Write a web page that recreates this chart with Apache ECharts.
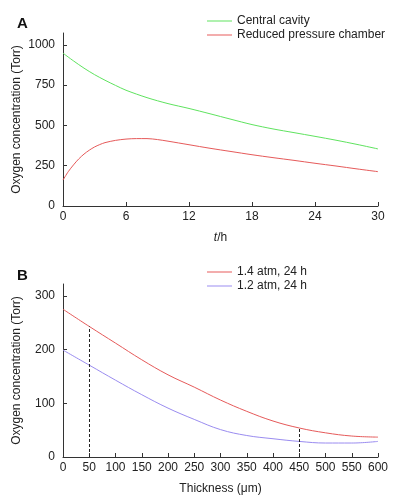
<!DOCTYPE html>
<html><head><meta charset="utf-8">
<script src="https://cdn.jsdelivr.net/npm/echarts@6/dist/echarts.min.js"></script>
<style>html,body{margin:0;padding:0;background:#fff}#c{width:400px;height:501px}</style>
</head><body><div id="c"></div>
<script>
// Panel A: time (h) vs oxygen concentration (Torr)
const centralCavity = [[0,948],[1,900],[2,855],[3,815],[4,780],[5,748],[6,718],[8,672],[10,635],[12,605],[14,572],[16,538],[18,505],[20,478],[22,455],[24,432],[26,408],[28,382],[30,354]];
const reducedChamber = [[0,161],[0.5,213],[1,255],[1.5,292],[2,322],[2.5,346],[3,366],[3.5,381],[4,393],[5,407],[6,415],[7,418],[8,418],[9,412],[10,402],[12,380],[14,358],[16,338],[18,318],[20,300],[22,283],[24,265],[26,248],[28,230],[30,213]];
const ticksAX = [0,6,12,18,24,30];
const ticksAY = [0,250,500,750,1000];
// Panel B: thickness (um) vs oxygen concentration (Torr)
const atm14 = [[0,275],[50,243],[100,212],[150,181],[200,153],[250,130],[300,106],[350,85],[400,67],[450,54],[500,45],[550,39],[600,37]];
const atm12 = [[0,199],[50,171],[100,143],[150,116],[200,91],[250,70],[300,51],[350,40],[400,34],[450,29],[500,26],[550,26],[600,29]];
const ticksBX = [0,50,100,150,200,250,300,350,400,450,500,550,600];
const ticksBY = [0,100,200,300];
const markX = [[50,243],[450,54]];

const FONT = '"Liberation Sans", Arial, sans-serif';
const AX = '#333';
const TXT = '#222';
function xAxis(idx, max, ticks, name, gi) {
  return {
    type:'value', gridIndex: gi, min:0, max:max, interval: ticks[1]-ticks[0],
    name:name, nameLocation:'middle', nameGap: 26, nameMoveOverlap:false,
    nameTextStyle:{fontFamily:FONT, fontSize:12, color:TXT, rich:{i:{fontStyle:'italic', fontFamily:FONT, fontSize:12, color:TXT}}},
    axisLine:{show:true, lineStyle:{color:AX, width:1}},
    axisTick:{show:true, inside:true, length:4, lineStyle:{color:AX}},
    axisLabel:{fontFamily:FONT, fontSize:12, color:TXT, margin:5, formatter: v => String(v)},
    splitLine:{show:false}
  };
}
function yAxis(max, ticks, gi) {
  return {
    type:'value', gridIndex: gi, min:0, max:max,
    name:'Oxygen concentration (Torr)', nameLocation:'middle', nameGap: 40, nameMoveOverlap:false,
    nameTextStyle:{fontFamily:FONT, fontSize:12, color:TXT},
    axisLine:{show:true, lineStyle:{color:AX, width:1}},
    axisTick:{show:true, inside:true, length:4, lineStyle:{color:AX}, customValues: ticks},
    axisLabel:{fontFamily:FONT, fontSize:12, color:TXT, margin:8, customValues: ticks, formatter: v => String(v)},
    splitLine:{show:false}
  };
}
const chart = echarts.init(document.getElementById('c'), null, {renderer:'canvas'});
chart.setOption({
  animation:false,
  backgroundColor:'#fff',
  title:[
    {text:'A', left:12, top:11, textStyle:{fontFamily:FONT, fontSize:15, fontWeight:'bold', color:'#111'}},
    {text:'B', left:12, top:263, textStyle:{fontFamily:FONT, fontSize:15, fontWeight:'bold', color:'#111'}}
  ],
  legend:[
    {data:['Central cavity','Reduced pressure chamber'], orient:'vertical', left:202, top:10, itemWidth:25, itemHeight:1, itemGap:2, icon:'rect',
     textStyle:{fontFamily:FONT, fontSize:12, color:TXT}},
    {data:['1.4 atm, 24 h','1.2 atm, 24 h'], orient:'vertical', left:202, top:261, itemWidth:25, itemHeight:1, itemGap:2, icon:'rect',
     textStyle:{fontFamily:FONT, fontSize:12, color:TXT}}
  ],
  grid:[
    {left:63, right:22, top:33, bottom:295, containLabel:false},
    {left:63, right:22, top:284, bottom:44, containLabel:false}
  ],
  xAxis:[
    xAxis(0, 30, ticksAX, '{i|t}/h', 0),
    xAxis(1, 600, ticksBX, 'Thickness (μm)', 1)
  ],
  yAxis:[
    yAxis(1073, ticksAY, 0),
    yAxis(322, ticksBY, 1)
  ],
  series:[
    {name:'Central cavity', type:'line', xAxisIndex:0, yAxisIndex:0, data:centralCavity, smooth:0.3, symbol:'none', lineStyle:{color:'#5fe35f', width:1}, itemStyle:{color:'#5fe35f'}},
    {name:'Reduced pressure chamber', type:'line', xAxisIndex:0, yAxisIndex:0, data:reducedChamber, smooth:0.3, symbol:'none', lineStyle:{color:'#e65a5a', width:1}, itemStyle:{color:'#e65a5a'}},
    {name:'1.4 atm, 24 h', type:'line', xAxisIndex:1, yAxisIndex:1, data:atm14, smooth:0.4, symbol:'none', lineStyle:{color:'#e65a5a', width:1}, itemStyle:{color:'#e65a5a'},
     markLine:{silent:true, symbol:'none', label:{show:false}, lineStyle:{color:'#222', type:[3,2], width:1},
       data: markX.map(p => [{coord:[p[0],0]},{coord:[p[0],p[1]]}])}},
    {name:'1.2 atm, 24 h', type:'line', xAxisIndex:1, yAxisIndex:1, data:atm12, smooth:0.4, symbol:'none', lineStyle:{color:'#9a8cf0', width:1}, itemStyle:{color:'#9a8cf0'}}
  ]
});
</script></body></html>
